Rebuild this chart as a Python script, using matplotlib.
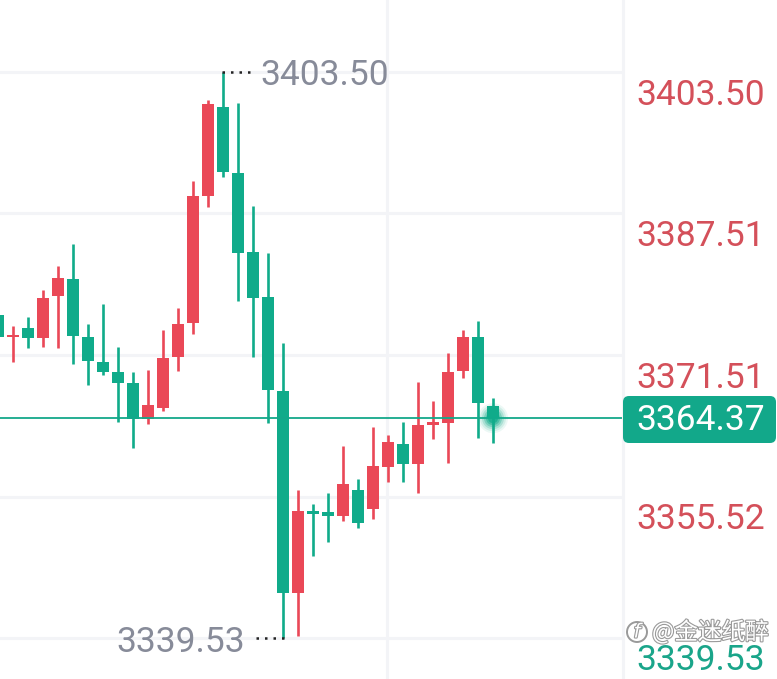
import numpy as np
import matplotlib
matplotlib.use('Agg')
import matplotlib.pyplot as plt
import matplotlib.patheffects as pe
from matplotlib.patches import FancyBboxPatch, Circle
from matplotlib.transforms import IdentityTransform

# candle data (open, high, low, close), oldest first
opens = [3376.04, 3373.50, 3374.57, 3373.44, 3378.18, 3380.11, 3373.55, 3370.72, 3369.59, 3368.35,
         3364.28, 3365.53, 3371.29, 3375.13, 3389.49, 3399.54, 3392.08, 3383.16, 3378.07, 3367.45,
         3344.62, 3353.88, 3353.77, 3353.32, 3356.26, 3354.11, 3358.86, 3361.46, 3359.20, 3363.60,
         3363.83, 3369.71, 3373.55, 3365.75]
highs = [3376.60, 3374.79, 3375.81, 3378.86, 3381.57, 3384.06, 3375.02, 3377.28, 3372.42, 3369.59,
         3369.82, 3374.34, 3376.83, 3391.18, 3400.34, 3403.50, 3400.00, 3388.36, 3383.04, 3372.87,
         3356.26, 3354.68, 3355.92, 3361.23, 3357.50, 3363.38, 3362.47, 3363.94, 3368.46, 3366.32,
         3371.74, 3374.34, 3375.36, 3366.66]
lows = [3373.00, 3370.72, 3372.31, 3372.42, 3372.31, 3370.50, 3368.12, 3369.25, 3363.94, 3361.00,
        3363.72, 3365.19, 3369.71, 3373.89, 3388.24, 3391.63, 3377.62, 3371.29, 3363.83, 3339.53,
        3339.76, 3348.80, 3350.38, 3352.75, 3351.96, 3352.98, 3357.16, 3357.16, 3355.92, 3362.02,
        3359.31, 3368.92, 3362.13, 3361.57]
closes = [3373.55, 3373.60, 3373.44, 3377.96, 3380.22, 3373.66, 3370.84, 3369.59, 3368.35, 3364.28,
          3365.86, 3371.18, 3375.02, 3389.49, 3399.88, 3392.20, 3383.04, 3377.96, 3367.56, 3344.62,
          3353.88, 3353.55, 3353.32, 3356.94, 3352.53, 3358.97, 3361.68, 3359.20, 3363.60, 3363.83,
          3369.59, 3373.55, 3366.09, 3364.37]

axis_prices = [3403.50, 3387.51, 3371.51, 3355.52, 3339.53]
axis_colors = ['#d4505a', '#d4505a', '#d4505a', '#d4505a', '#1aa58a']
last_price = 3364.37
high_price = 3403.50
low_price = 3339.53
watermark = '@金迷纸醉'

UP = '#ea4857'
DOWN = '#10ab8a'
GRID = '#f3f4f7'

W, H = 777, 679
fig = plt.figure(figsize=(W / 100, H / 100), dpi=100)
fig.patch.set_facecolor('white')
ax = fig.add_axes([0, 0, 623 / W, 1])
ax.set_facecolor('white')
for s in ax.spines.values():
    s.set_visible(False)
ax.set_xticks([])
ax.set_yticks([])

n = len(opens)
x = np.arange(n)
ax.set_xlim(2 / 15, 625 / 15)
ax.set_ylim(3334.896, 3411.638)

# grid
for p in axis_prices:
    ax.axhline(p, color=GRID, lw=2.2, zorder=0)
ax.axvline(389 / 15, color=GRID, lw=2.2, zorder=0)
fig.add_artist(plt.Line2D([623 / W, 623 / W], [0, 1], color=GRID, lw=2.2))

# candles
o = np.array(opens); c = np.array(closes)
hi = np.array(highs); lo = np.array(lows)
up = c >= o
cols = np.where(up, UP, DOWN)
ax.vlines(x, lo, hi, colors=cols, lw=1.9, zorder=2)
bottom = np.minimum(o, c)
height = np.maximum(np.abs(c - o), 0.3)
ax.bar(x, height, bottom=bottom, width=0.8, color=cols, zorder=3)

# last price line
ax.axhline(last_price, color='#14a88a', lw=1.3, zorder=4)

# glow on last candle
for r, a in [(15, 0.08), (13, 0.12), (11, 0.2), (9, 0.3), (7, 0.45), (5, 0.7)]:
    ax.scatter([x[-1]], [last_price], s=(2 * r * 0.72) ** 2, color='#10ab8a',
               alpha=a, edgecolors='none', zorder=5)

# high / low markers
ax.plot([x[15] - 0.05, x[15] + 2.2], [high_price, high_price], color='#222222',
        lw=1.8, dashes=(1, 2.4), zorder=4)
ax.annotate(f'{high_price:.2f}', xy=(x[15] + 2.5, high_price), xytext=(0, -3),
            textcoords='offset pixels', ha='left', va='center',
            fontsize=25.5, family='Roboto', color='#878b99')
ax.plot([x[19] + 0.05, x[19] - 1.9], [low_price, low_price], color='#222222',
        lw=1.8, dashes=(1, 2.4), zorder=4)
ax.annotate(f'{low_price:.2f}', xy=(x[19] - 2.5, low_price), xytext=(0, -5),
            textcoords='offset pixels', ha='right', va='center',
            fontsize=25.5, family='Roboto', color='#878b99')

# right axis labels
for p, col in zip(axis_prices, axis_colors):
    ax.annotate(f'{p:.2f}', xy=(636 / W, p), xycoords=('figure fraction', 'data'),
                xytext=(0, -23), textcoords='offset pixels', ha='left', va='center',
                fontsize=25.5, family='Roboto', color=col, annotation_clip=False)

# last price box
box = FancyBboxPatch((623, H - 443), 153, 47, boxstyle='round,pad=0,rounding_size=6',
                     transform=IdentityTransform(), facecolor='#12a88a', edgecolor='none',
                     zorder=5)
fig.add_artist(box)
fig.text(636 / W, 1 - 420 / H, f'{last_price:.2f}', ha='left', va='center',
         fontsize=25.5, family='Roboto', color='white', zorder=6)

# watermark
stroke = [pe.withStroke(linewidth=1.6, foreground='#9a9a9a')]
fig.text(652 / W, 1 - 632 / H, watermark, ha='left', va='center', fontsize=17,
         family=['Noto Sans CJK SC', 'DejaVu Sans'], color='white', path_effects=stroke,
         zorder=6)
circ = Circle((637, H - 632), 10, transform=IdentityTransform(), facecolor='white',
              edgecolor='#9a9a9a', lw=1.4, zorder=6)
fig.add_artist(circ)
fig.text(637 / W, 1 - 632 / H, 'f', ha='center', va='center', fontsize=14, style='italic',
         color='white', path_effects=stroke, zorder=7)

fig.savefig('out.png', dpi=100, facecolor='white')
